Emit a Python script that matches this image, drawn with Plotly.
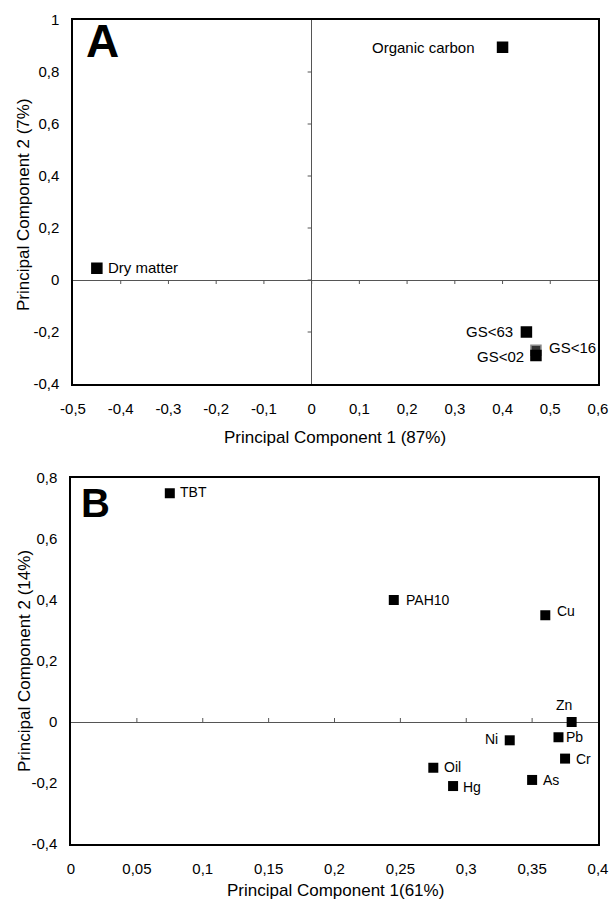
import plotly.graph_objects as go

# ---------------- data ----------------
# Panel A
a_names = ["Organic carbon", "Dry matter", "GS<63", "GS<16", "GS<02"]
a_pc1 = [0.40, -0.45, 0.45, 0.47, 0.47]
a_pc2 = [0.895, 0.045, -0.20, -0.27, -0.29]

# Panel B
b_names = ["TBT", "PAH10", "Cu", "Zn", "Pb", "Cr", "Ni", "Oil", "Hg", "As"]
b_pc1 = [0.075, 0.245, 0.36, 0.38, 0.37, 0.375, 0.333, 0.275, 0.29, 0.35]
b_pc2 = [0.75, 0.40, 0.35, 0.0, -0.05, -0.12, -0.06, -0.15, -0.21, -0.19]

# tick values / labels
a_xticks = [-0.5, -0.4, -0.3, -0.2, -0.1, 0, 0.1, 0.2, 0.3, 0.4, 0.5, 0.6]
a_xlabels = ["-0,5", "-0,4", "-0,3", "-0,2", "-0,1", "0", "0,1", "0,2", "0,3", "0,4", "0,5", "0,6"]
a_yticks = [-0.4, -0.2, 0, 0.2, 0.4, 0.6, 0.8, 1.0]
a_ylabels = ["-0,4", "-0,2", "0", "0,2", "0,4", "0,6", "0,8", "1"]
b_xticks = [0, 0.05, 0.1, 0.15, 0.2, 0.25, 0.3, 0.35, 0.4]
b_xlabels = ["0", "0,05", "0,1", "0,15", "0,2", "0,25", "0,3", "0,35", "0,4"]
b_yticks = [-0.4, -0.2, 0, 0.2, 0.4, 0.6, 0.8]
b_ylabels = ["-0,4", "-0,2", "0", "0,2", "0,4", "0,6", "0,8"]

# ---------------- styling ----------------
W, H = 610, 905
FONT = "Liberation Sans, Arial, Helvetica, sans-serif"

def px(x):
    return x / W

def py(y):
    return 1 - y / H

# label placement (style only): anchor, xshift, yshift
a_lab = {
    "Organic carbon": ("right", -26, 0),
    "Dry matter": ("left", 9, 1),
    "GS<63": ("right", -11, 0),
    "GS<16": ("left", 11, 3),
    "GS<02": ("right", -10, -1),
}
b_lab = {
    "TBT": ("left", 8, 1, "middle"),
    "PAH10": ("left", 10, 0, "middle"),
    "Cu": ("left", 10, 4, "middle"),
    "Zn": ("center", -8, 17, "middle"),
    "Pb": ("left", 6, 0, "middle"),
    "Cr": ("left", 9, 0, "middle"),
    "Ni": ("right", -10, 1, "middle"),
    "Oil": ("left", 9, 1, "middle"),
    "Hg": ("left", 8, -1, "middle"),
    "As": ("left", 9, 0, "middle"),
}

fig = go.Figure()

a_line_colors = ["black" if n != "GS<16" else "#8a8a8a" for n in a_names]
a_colors = ["black" if n != "GS<16" else "#333333" for n in a_names]

fig.add_trace(go.Scatter(
    x=a_pc1, y=a_pc2, mode="markers", xaxis="x", yaxis="y",
    marker=dict(symbol="square", size=10, color=a_colors,
                line=dict(color=a_line_colors, width=1.5)),
    hoverinfo="text", text=a_names, showlegend=False,
))
fig.add_trace(go.Scatter(
    x=b_pc1, y=b_pc2, mode="markers", xaxis="x2", yaxis="y2",
    marker=dict(symbol="square", size=10, color="black"),
    hoverinfo="text", text=b_names, showlegend=False,
))

annotations = []
for n, xv, yv in zip(a_names, a_pc1, a_pc2):
    anc, xs, ys = a_lab[n]
    annotations.append(dict(x=xv, y=yv, xref="x", yref="y", text=n, showarrow=False,
                            xanchor=anc, yanchor="middle", xshift=xs, yshift=ys,
                            font=dict(family=FONT, size=15, color="black")))
for n, xv, yv in zip(b_names, b_pc1, b_pc2):
    anc, xs, ys, ya = b_lab[n]
    annotations.append(dict(x=xv, y=yv, xref="x2", yref="y2", text=n, showarrow=False,
                            xanchor=anc, yanchor=ya, xshift=xs, yshift=ys,
                            font=dict(family=FONT, size=14, color="black")))

# panel letters
annotations.append(dict(x=px(84), y=py(41), xref="paper", yref="paper", text="<b>A</b>",
                        showarrow=False, xanchor="left", yanchor="middle",
                        font=dict(family="Liberation Sans Narrow, Liberation Sans, Arial", size=46, color="black")))
annotations.append(dict(x=px(79), y=py(503), xref="paper", yref="paper", text="<b>B</b>",
                        showarrow=False, xanchor="left", yanchor="middle",
                        font=dict(family="Liberation Sans Narrow, Liberation Sans, Arial", size=40, color="black")))

# axis titles
TITLE_FONT = dict(family=FONT, size=17, color="black")
annotations += [
    dict(x=px(335), y=py(437), xref="paper", yref="paper", text="Principal Component 1 (87%)",
         showarrow=False, xanchor="center", yanchor="middle", font=TITLE_FONT),
    dict(x=px(24), y=py(205), xref="paper", yref="paper", text="Principal Component 2 (7%)",
         showarrow=False, xanchor="center", yanchor="middle", textangle=-90, font=TITLE_FONT),
    dict(x=px(335), y=py(890), xref="paper", yref="paper", text="Principal Component 1(61%)",
         showarrow=False, xanchor="center", yanchor="middle", font=TITLE_FONT),
    dict(x=px(24), y=py(661), xref="paper", yref="paper", text="Principal Component 2 (14%)",
         showarrow=False, xanchor="center", yanchor="middle", textangle=-90, font=TITLE_FONT),
]

# small tick marks on the zero lines
shapes = []
for t in a_xticks:
    if -0.5 < t < 0.6:
        shapes.append(dict(type="line", xref="x", yref="y", xsizemode="scaled",
                           ysizemode="pixel", yanchor=0, x0=t, x1=t, y0=0, y1=-4,
                           line=dict(color="#555555", width=1)))
for t in a_yticks:
    if -0.4 < t < 1.0:
        shapes.append(dict(type="line", xref="x", yref="y", xsizemode="pixel",
                           xanchor=0, ysizemode="scaled", y0=t, y1=t, x0=0, x1=-4,
                           line=dict(color="#555555", width=1)))
for t in b_xticks:
    if 0 < t < 0.4:
        shapes.append(dict(type="line", xref="x2", yref="y2", xsizemode="scaled",
                           ysizemode="pixel", yanchor=0, x0=t, x1=t, y0=0, y1=4,
                           line=dict(color="#555555", width=1)))

TICK_FONT = dict(family=FONT, size=15, color="black")

def axis(domain, rng, tv, tt, anchor, zero=True, xaxis=True):
    d = dict(domain=domain, range=rng, tickvals=tv, ticktext=tt, anchor=anchor,
             showgrid=False, zeroline=zero, zerolinecolor="#555555", zerolinewidth=1,
             showline=True, linecolor="black", linewidth=1.6, mirror=True,
             ticks="", tickfont=TICK_FONT, fixedrange=True, automargin=False,
             ticklabeloverflow="allow")
    d["ticklabelstandoff"] = 10 if xaxis else 9
    return d

fig.update_layout(
    width=W, height=H,
    margin=dict(l=0, r=0, t=0, b=0, autoexpand=False),
    paper_bgcolor="white", plot_bgcolor="white",
    font=dict(family=FONT, color="black"),
    xaxis=axis([px(73), px(598)], [-0.5, 0.6], a_xticks, a_xlabels, "y"),
    yaxis=axis([py(384), py(20)], [-0.4, 1.0], a_yticks, a_ylabels, "x", xaxis=False),
    xaxis2=axis([px(71), px(598)], [0, 0.4], b_xticks, b_xlabels, "y2", zero=False),
    yaxis2=axis([py(844), py(478)], [-0.4, 0.8], b_yticks, b_ylabels, "x2", xaxis=False),
    annotations=annotations,
    shapes=shapes,
    showlegend=False,
    hovermode=False,
)

fig.write_html(
    "out.html",
    config={"displayModeBar": False, "staticPlot": True},
    post_script="document.body.style.margin='0';document.body.style.overflow='hidden';",
)
